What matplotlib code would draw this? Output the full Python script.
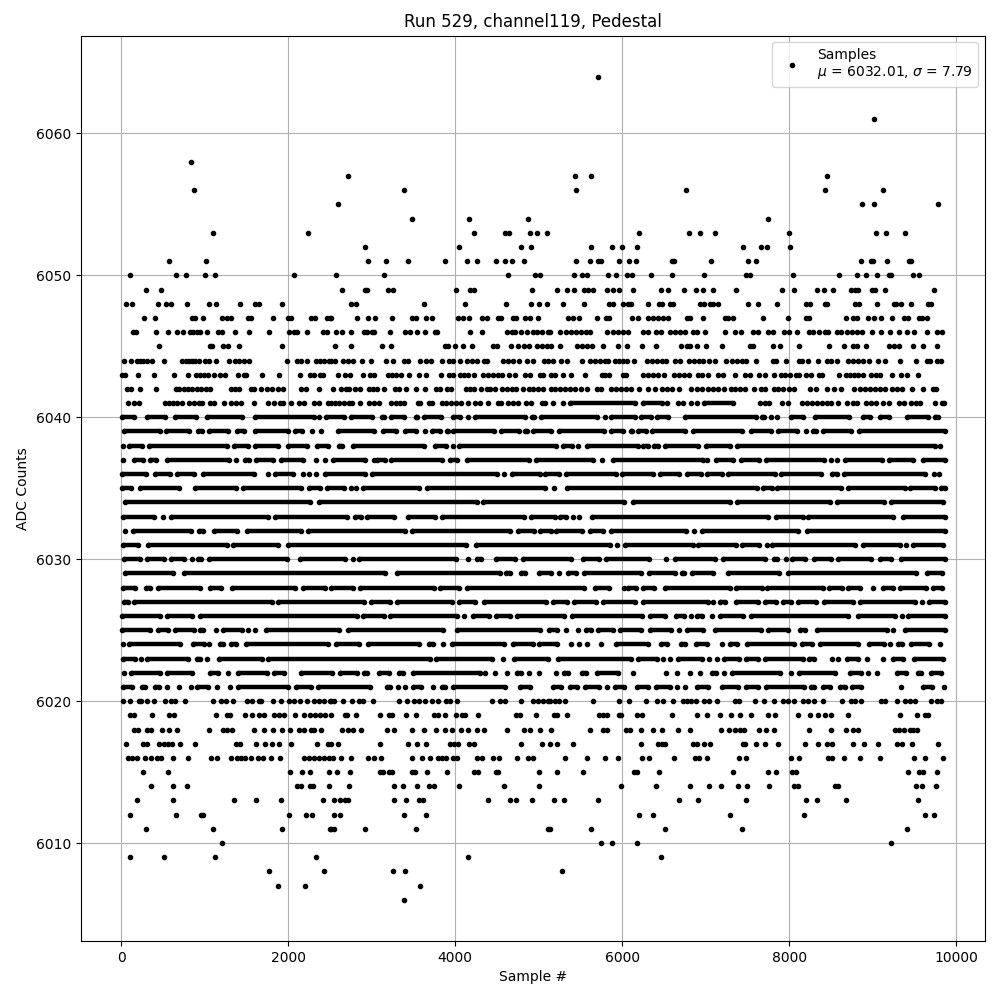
import matplotlib
matplotlib.use("Agg")
import matplotlib.pyplot as plt

# sample numbers, one list per ADC code
# sparse codes: single samples
d6064 = [5712]
d6061 = [9016]
d6058 = [832]
d6057 = [2716, 5436, 5628, 8452]
d6056 = [868, 3388, 5448, 6768, 8428, 9124]
d6055 = [2596, 8872, 9016, 9784]
d6054 = [3484, 4168, 4876, 7748]
d6053 = [1096, 2236, 4228, 4600, 4648, 4900, 4984, 5104, 6204, 6804, 6936, 7116, 7996, 9040, 9160, 9388]
d6052 = [2920, 4048, 4792, 4912, 5628, 5880, 6000, 6180, 7452, 7668, 7740, 8008]
d6051 = [568, 1012, 2956, 3172, 3436, 3880, 4144, 4264, 4492, 4600, 4684, 4828, 5448, 5616, 5712, 5748, 5964,
         6084, 6168, 6600, 6624, 7068, 7512, 7608, 8860, 8980, 9004, 9172, 9436, 9460]
d6050 = [100, 652, 772, 1000, 1120, 2068, 2572, 3148, 4636, 4960, 5020, 5424, 5520, 5580, 5832, 5928, 6060, 6120,
         6348, 6600, 6984, 7488, 7536, 8044, 8596, 8812, 8920, 9052, 9196, 9220, 9484, 9556]
d6049 = [292, 472, 2644, 2920, 2944, 3196, 3256, 4012, 4180, 4228, 4924, 5220, 5340, 5424, 5544, 5592, 5652, 5820,
         5892, 5964, 6132, 6468, 6552, 6744, 6888, 6972, 7092, 7368, 7912, 8056, 8332, 8416, 8524, 8740, 8788, 8824,
         8992, 9028, 9144, 9736]
d6048 = [52, 124, 436, 532, 592, 784, 1048, 1132, 1420, 1600, 1648, 1924, 2752, 2812, 3628, 4120, 4612, 4912, 5008,
         5104, 5292, 5544, 5844, 5892, 6012, 6072, 6108, 6312, 6444, 6480, 6576, 6612, 6936, 6984, 7056, 7092, 7152,
         7512, 7632, 7852, 8200, 8248, 8428, 8452, 8788, 8836, 9052, 9256, 9280, 9340, 9460, 9664, 9700]
d6047 = [268, 400, 844, 880, 976, 1204, 1264, 1312, 1516, 1552, 1816, 1996, 2032, 2272, 2320, 2464, 2500, 2512, 2824,
         2956, 3040, 3244, 3484, 3532, 3652, 3724, 4036, 4096, 4168, 4324, 4384, 4516, 4552, 4696, 4732, 4840, 4900,
         4996, 5352, 5412, 5484, 5700, 5808, 5844, 6120, 6192, 6312, 6372, 6432, 6492, 6552, 6780, 6816, 6972, 7236,
         7272, 7332, 7692, 7984, 8200, 8236, 8680, 8764, 8812, 8944, 9016, 9100, 9232, 9376, 9424, 9556, 9592, 9652]
d6046 = [136, 172, 412, 556, 664, 736, 820, 856, 904, 940, 1024, 1156, 1204, 1360, 1528, 1768, 2008, 2068, 2104, 2224,
         2416, 2464, 2572, 2644, 2752, 2908, 2944, 3004, 3028, 3220, 3400, 3460, 3544, 3640, 3760, 3784, 4180, 4324,
         4624, 4684, 4720, 4792, 4864, 4936, 4984, 5044, 5116, 5132, 5256, 5328, 5388, 5448, 5508, 5568, 5616, 5820,
         5892, 5952, 6012, 6072, 6252, 6312, 6408, 6468, 6576, 6636, 6696, 6756, 6852, 6900, 6996, 7236, 7356, 7428,
         7572, 7632, 7752, 7804, 7936, 7996, 8092, 8236, 8284, 8356, 8428, 8464, 8572, 8620, 8692, 8752, 8812, 8872,
         8992, 9100, 9208, 9316, 9412, 9496, 9652, 9772, 9832]
d6045 = [448, 1060, 1084, 1216, 1276, 1408, 1924, 2560, 2752, 3124, 3232, 3880, 3916, 4000, 4096, 4204, 4456, 4504,
         4672, 4756, 4828, 4888, 4984, 5044, 5104, 5148, 5256, 5460, 5520, 5580, 5640, 5772, 5952, 6060, 6240, 6408,
         6708, 6780, 6816, 6900, 7008, 7200, 7536, 7572, 7804, 7888, 8116, 8476, 8656, 8764, 8812, 8920, 9196, 9256,
         9316, 9484, 9604, 9772]
d6044 = [32, 112, 184, 220, 256, 304, 364, 508, 724, 772, 808, 844, 880, 928, 1000, 1048, 1132, 1288, 1360, 1408, 1468,
         1528, 1984, 2104, 2152, 2224, 2332, 2380, 2428, 2488, 2512, 2560, 2656, 2716, 2776, 2884, 2992, 3172, 3256,
         3384, 3432, 3580, 3652, 3712, 3844, 3928, 3976, 4060, 4144, 4204, 4264, 4348, 4384, 4576, 4636, 4696, 4768,
         4864, 4936, 5068, 5116, 5172, 5268, 5340, 5520, 5616, 5676, 5736, 5796, 5832, 5916, 5964, 6012, 6060, 6140,
         6300, 6360, 6420, 6480, 6528, 6636, 6696, 6804, 6864, 6924, 6972, 7044, 7116, 7248, 7320, 7380, 7440, 7488,
         7608, 7804, 7840, 7960, 8116, 8152, 8224, 8344, 8452, 8500, 8572, 8704, 8764, 8824, 8884, 8956, 9064, 9148,
         9328, 9520, 9652, 9688, 9772, 9820]
d6043 = [4, 44, 196, 388, 628, 796, 892, 940, 988, 1036, 1108, 1180, 1240, 1396, 1468, 1492, 1684, 1888, 2136, 2260,
         2308, 2380, 2416, 2596, 2680, 2740, 2896, 2980, 3028, 3196, 3244, 3292, 3352, 3444, 3568, 3652, 3832, 3928,
         3976, 4060, 4108, 4156, 4228, 4336, 4396, 4456, 4516, 4564, 4648, 4720, 4840, 4900, 5020, 5056, 5148, 5196,
         5292, 5388, 5556, 5760, 5796, 5844, 6012, 6044, 6252, 6312, 6372, 6432, 6504, 6624, 6684, 6744, 6804, 6912,
         6960, 7032, 7152, 7212, 7356, 7476, 7536, 7644, 7716, 7816, 7900, 7948, 8008, 8080, 8116, 8200, 8260, 8356,
         8392, 8596, 8680, 8728, 8776, 8824, 8884, 8980, 9040, 9088, 9232, 9340, 9412, 9544]
d6042 = [64, 112, 220, 412, 652, 688, 748, 796, 844, 904, 952, 1012, 1060, 1312, 1360, 1408, 1552, 1588, 1672, 1744,
         1804, 1876, 1936, 2152, 2212, 2368, 2536, 2632, 2692, 2728, 2800, 2860, 2968, 3016, 3064, 3148, 3280, 3328,
         3412, 3532, 3640, 3772, 3820, 3904, 3952, 4132, 4180, 4228, 4312, 4384, 4420, 4480, 4564, 4624, 4684, 4732,
         4816, 4888, 4936, 4996, 5056, 5148, 5196, 5256, 5316, 5376, 5436, 5508, 5580, 5700, 5748, 5868, 5928, 5988,
         6048, 6108, 6204, 6312, 6396, 6480, 6540, 6600, 6684, 6820, 6900, 6960, 7032, 7092, 7152, 7224, 7308, 7356,
         7416, 7476, 7584, 7668, 7716, 7816, 7864, 7924, 7996, 8056, 8248, 8320, 8452, 8536, 8620, 8776, 8848, 8908,
         8968, 9028, 9088, 9148, 9232, 9292, 9352, 9472, 9604, 9724, 9760]
d6041 = [76, 148, 208, 520, 568, 616, 664, 724, 808, 868, 928, 968, 1060, 1108, 1228, 1312, 1372, 1432, 1588, 1756,
         1828, 1900, 1936, 2032, 2128, 2188, 2308, 2368, 2476, 2512, 2560, 2608, 2668, 2728, 2764, 2860, 2968, 3028,
         3088, 3232, 3292, 3340, 3388, 3556, 3580, 3688, 3724, 3844, 3892, 3952, 4012, 4072, 4156, 4240, 4300, 4396,
         4516, 4552, 4636, 4696, 4756, 4852, 4912, 5044, 5080, 5172, 5292, 6540, 6672, 6732, 6828, 6900, 7656, 7716,
         7764, 7912, 7984, 8152, 8212, 8272, 8332, 8392, 8452, 8500, 8584, 8692, 8764, 8812, 8920, 8980, 9040, 9124,
         9196, 9316, 9376, 9460, 9520, 9568, 9748, 9832, 9856]
d6020 = [16, 108, 208, 232, 304, 388, 520, 592, 640, 760, 1096, 1192, 1252, 1336, 1504, 1564, 1648, 1672, 1816, 1912,
         2008, 2068, 2140, 2224, 2308, 2368, 2428, 2500, 2512, 2548, 2656, 2764, 2848, 2896, 3016, 3328, 3424, 3508,
         3568, 3640, 3724, 3796, 3892, 3940, 4024, 4444, 4540, 4600, 4792, 4936, 4996, 5056, 5116, 5132, 5196, 5244,
         5316, 5652, 5964, 6084, 6288, 6420, 6492, 6612, 6732, 6780, 6828, 6888, 6984, 7044, 7140, 7356, 7404, 7596,
         7704, 7816, 7924, 7984, 8056, 8164, 8224, 8296, 8404, 8632, 8740, 8788, 8860, 9100, 9148, 9292, 9388, 9448,
         9508, 9700, 9772, 9820]
d6019 = [108, 148, 368, 568, 628, 1132, 1264, 1300, 1480, 1564, 1648, 1708, 1828, 1888, 1948, 2080, 2188, 2260, 2320,
         2380, 2440, 2512, 2680, 2704, 2812, 3100, 3208, 3244, 3412, 3532, 3748, 3796, 3880, 4012, 4084, 4120, 4276,
         4732, 4780, 4972, 5184, 5220, 5340, 5724, 5772, 5820, 5964, 5988, 6180, 6240, 6600, 6900, 7012, 7176, 7308,
         7416, 7548, 7752, 7828, 8104, 8248, 8344, 8428, 8500, 8704, 9328, 9532, 9628, 9664]
d6018 = [148, 196, 304, 352, 484, 568, 664, 1048, 1216, 1264, 1324, 1588, 1708, 1820, 1924, 2020, 2128, 2188, 2272,
         2308, 2392, 2644, 2716, 2776, 2872, 3184, 3268, 3484, 3628, 3772, 3880, 3964, 4072, 4156, 4264, 4348, 4624,
         4828, 4900, 5020, 5148, 5616, 5772, 5820, 6048, 6096, 6228, 6372, 6480, 6672, 6816, 7188, 7284, 7356, 7416,
         7464, 7644, 7728, 7816, 8236, 8500, 8680, 8764, 8824, 9268, 9316, 9376, 9448, 9484, 9532]
d6017 = [52, 256, 304, 448, 508, 556, 604, 700, 880, 1372, 1420, 1612, 1720, 1804, 1888, 2032, 2344, 2476, 2512, 2596,
         3100, 3436, 3544, 3652, 3940, 3988, 4036, 4168, 4228, 4792, 5044, 5136, 5220, 5412, 6228, 6432, 6480, 6516,
         6852, 6900, 6984, 7056, 7452, 7476, 7608, 7716, 7864, 8188, 8344, 8452, 8512, 8764, 8896, 9064, 9292, 9352,
         9472, 9784]
d6016 = [76, 124, 184, 280, 352, 424, 468, 616, 796, 1072, 1144, 1312, 1384, 1432, 1480, 1552, 1636, 1696, 1792, 1900,
         2188, 2248, 2308, 2368, 2428, 2488, 2536, 2632, 2752, 2956, 3028, 3112, 3484, 3604, 3700, 3796, 3844, 3892,
         3976, 4024, 4264, 4324, 4456, 4528, 4744, 4876, 4936, 5316, 5580, 5796, 5952, 6240, 6324, 6624, 6876, 6924,
         7020, 7404, 7488, 8020, 8116, 8464, 8512, 8656, 8848, 9088, 9496, 9628, 9844]
d6015 = [256, 556, 2020, 2164, 2260, 2488, 2584, 2740, 3100, 3136, 3208, 3244, 3484, 3520, 3664, 3904, 4228, 4276,
         4492, 4516, 5008, 5220, 5532, 6144, 6180, 6444, 7332, 7752, 7840, 8032, 8080, 9424, 9556, 9604, 9772]
d6014 = [352, 616, 784, 2104, 2152, 2260, 2296, 2488, 2728, 3268, 3376, 3544, 3688, 3748, 4048, 4588, 5000, 5988, 6408,
         6816, 7044, 7188, 7392, 7500, 7764, 8056, 8104, 8548, 8584, 9520, 9592, 9760]
d6013 = [184, 616, 1348, 1612, 1912, 2416, 2548, 2620, 2680, 2716, 3268, 3412, 3568, 3616, 4396, 4660, 4732, 4924, 5184,
         5304, 5712, 6684, 6912, 7488, 8200, 8332, 8680, 9544]
d6012 = [100, 652, 952, 976, 2008, 2212, 2284, 2548, 2620, 3388, 3652, 6204, 6372, 7296, 8176, 9628, 9736]
d6011 = [292, 1096, 1924, 2500, 2512, 2548, 2920, 3532, 5116, 5132, 5628, 6516, 7440, 9412]
d6010 = [1204, 5748, 5880, 6180, 9220]
d6009 = [100, 508, 1120, 2332, 4156, 6468]
d6008 = [1768, 2428, 3256, 3400, 5280]
d6007 = [1876, 2200, 3580]
d6006 = [3388]

# dense codes: the dots overlap into bars, so (first, last) sample of each bar, or one sample
r6041 = [(5376, 6156), (6252, 6472), (6984, 7332)]
r6040 = [(8, 152), (308, 520), (644, 888), (1028, 1448), (1596, 2312), 2368, (2456, 2668), (2748, 3000), (3116, 3140),
         (3224, 3380), (3524, 3540), (3628, 3832), (3976, 4060), 4148, (4236, 4840), (4924, 4940), (5028, 5696), 5788,
         (5868, 6152), (6228, 6344), (6412, 6552), (6748, 7604), (7680, 7704), 7785, 7852, (8020, 8172), (8308, 8712),
         (8888, 8964), (9088, 9192), (9408, 9664), (9748, 9784)]
r6039 = [(36, 460), (528, 808), (916, 968), (1048, 1280), (1384, 1472), (1596, 2000), (2076, 2168), 2286, 2388,
         (2596, 3020), (3136, 3288), (3396, 3528), 3640, (3716, 3812), (3904, 3912), (3976, 4460), (4544, 4768),
         (4836, 4860), (4936, 5152), (5248, 5776), (5860, 6012), (6100, 6112), (6192, 6284), (6360, 6756), (6852, 7432),
         (7540, 7784), (7872, 8096), 8200, (8288, 8316), (8408, 8744), (8840, 9872)]
r6038 = [20, (88, 248), (328, 1260), (1344, 1520), (1596, 1880), (1996, 2228), (2344, 2480), (2608, 2648), (2776, 3628),
         (3756, 3888), 3970, (4044, 5204), (5288, 5404), 5476, (5580, 6184), (6252, 6304), (6380, 6424), (6508, 6912),
         (7000, 7296), (7372, 9744), 9812]
r6037 = [16, (156, 260), (344, 412), (544, 1288), 1368, (1476, 1528), (1616, 1820), (1916, 2180), 2332, 2444,
         (2536, 2920), 3020, (3056, 3152), (3228, 3840), (3936, 4020), (4144, 4880), (4968, 5644), 5760, (5892, 6972),
         7018, (7128, 7324), (7428, 7636), (7728, 8416), 8500, 8572, (8672, 9112), (9200, 9484), (9600, 9864)]
r6036 = [(8, 292), (404, 580), (668, 868), (976, 1588), 1758, (1844, 2060), 2180, 2248, 2328, (2436, 2920), (2996, 4500),
         4588, (4684, 5012), (5080, 5244), (5328, 5924), (5992, 6364), (6456, 6684), (6780, 6944), (7020, 7192),
         (7272, 7832), (7908, 8376), (8508, 8572), (8660, 9632), 9732, 9800]
r6035 = [(8, 112), (216, 688), (876, 1372), (1456, 2152), (2248, 2380), (2464, 2668), 2756, 2816, (2896, 3568),
         (3656, 5072), 5180, (5340, 7616), (7688, 7792), (7860, 8624), (8700, 9384), (9448, 9744), (9820, 9864)]
r6034 = [(48, 2260), (2368, 4260), (4336, 6024), (6128, 7296), (7380, 8484), (8568, 9132), (9220, 9844)]
r6033 = [(16, 392), 498, (596, 1752), (1840, 2700), (2796, 2868), (2944, 3268), (3436, 3760), (3844, 4820),
         (4904, 5192), (5260, 5324), 5406, 5488, (5640, 7752), (7848, 8164), (8232, 9244), (9360, 9864)]
r6032 = [40, (144, 832), (928, 980), (1104, 1380), (1508, 2152), (2236, 3392), (3476, 4660), (4756, 4940), (5020, 5144),
         (5212, 5524), (5608, 5764), (5860, 6764), 6860, (6960, 8112), (8220, 9872)]
r6031 = [(16, 192), (316, 1260), (1336, 1872), (1996, 4128), (4248, 5856), 5940, (6028, 6844), (6912, 7364),
         (7440, 7644), 7730, (7800, 8792), (8880, 9324), 9400, (9480, 9844)]
r6030 = [(28, 220), (308, 512), (596, 752), 848, (920, 952), (1048, 1980), (2136, 2680), 2770, (2848, 4012), 4148,
         (4264, 4312), (4484, 4720), (4816, 5384), (5528, 5724), (5808, 6316), 6520, (6632, 7116), (7212, 7712),
         (7820, 7856), 7962, (8040, 8192), (8300, 8504), (8580, 8984), (9088, 9224), (9340, 9864)]
r6029 = [(44, 612), (744, 3160), (3296, 4540), (4608, 4660), (4784, 4832), (5000, 5152), 5244, (5352, 5444),
         (5548, 6224), (6320, 6632), (6712, 6744), (6832, 7084), (7272, 7884), (7992, 9516), (9652, 9832)]
r6028 = [(16, 168), (296, 340), (436, 940), (1064, 1192), (1328, 2080), (2176, 2440), (2516, 2772), (2856, 3740),
         (3816, 4048), (4144, 5544), (5668, 5844), 6020, (6072, 6164), (6252, 6384), (6508, 7292), (7368, 7672),
         (7740, 8404), (8480, 8632), (8700, 8844), 9000, (9120, 9244), (9328, 9644), (9720, 9832)]
r6027 = [(36, 80), (156, 1800), (1876, 2900), (2988, 3220), (3296, 3960), (4044, 4232), (4344, 5084), (5168, 5344),
         (5428, 5684), (5772, 6152), (6252, 7024), 7084, (7172, 7232), (7368, 7624), (7712, 7844), (7928, 8024),
         (8112, 8324), (8412, 8764), (8848, 9512), 9590, (9672, 9864)]
r6026 = [(4, 460), (548, 840), (944, 2820), (2896, 3140), (3216, 4020), 4100, (4208, 4400), (4484, 4660), (4744, 5304),
         (5400, 6232), (6332, 6516), (6640, 6744), 6830, (6892, 6952), 7080, (7172, 7452), (7540, 8704), (8820, 9272),
         9350, (9420, 9872)]
r6025 = [(4, 340), (436, 552), (636, 872), (944, 980), 1134, (1216, 1440), 1515, 1596, (1728, 2608), (2716, 3848),
         (4016, 5020), (5128, 5216), 5332, 5472, (5568, 5624), (5712, 5884), (5972, 6224), (6332, 6584), 6680,
         (6780, 6964), (7112, 7664), (7752, 7992), (8128, 8196), (8328, 9176), 9242, (9388, 9864)]
r6024 = [20, (96, 700), (856, 988), 1044, (1184, 1220), (1316, 1372), (1496, 2480), (2568, 2848), (2956, 3560),
         (3684, 3728), 3856, (3964, 4580), (4696, 4928), (5000, 5224), 5392, 5484, 5584, 5740, (5928, 6304),
         (6460, 6532), (6708, 6752), (6880, 7012), 7200, (7292, 7372), (7492, 8064), (8160, 8272), (8372, 8824),
         (8960, 9132), 9212, (9300, 9352), (9460, 9672), 9812]
r6023 = [(16, 168), 232, (304, 800), (900, 940), 1024, (1168, 1680), (1756, 3700), (3768, 4440), 4568, (4704, 5112),
         (5232, 6104), (6192, 6412), 6492, 6572, (6672, 6956), 7034, 7140, (7220, 7404), (7488, 7624), (7712, 8164),
         (8240, 8304), 8510, 8590, (8688, 8824), 8928, 9124, (9248, 9364), (9492, 9844)]
r6022 = [36, (116, 460), (544, 848), (1056, 1160), 1278, (1396, 1740), (1828, 1948), (2156, 2528), (2624, 2820),
         (2904, 2940), (3084, 3200), (3324, 3368), (3496, 4300), 4358, 4472, 4618, (4744, 4788), 4888, 5000, 5208,
         (5300, 5356), (5520, 5564), (5700, 5944), 6128, 6528, 6662, 6818, 6938, (7080, 7124), 7222, (7312, 7896), 8020,
         (8120, 8544), (8728, 8856), 8940, 9056, (9288, 9396), (9540, 9584), (9700, 9824)]
r6021 = [(16, 128), (248, 280), (396, 448), 544, 688, 828, (904, 1032), 1146, 1298, (1396, 2000), (2088, 2268),
         (2356, 2980), (3176, 3220), 3314, 3396, (3488, 3592), 3734, (3836, 3872), (3968, 4600), (4776, 4900),
         (5172, 5272), (5380, 5456), (5552, 5716), 5812, (5912, 6024), (6180, 6312), (6400, 6572), 6654, 6748,
         (6900, 7024), (7200, 7384), (7480, 7632), (7728, 8184), (8260, 8304), (8400, 8484), (8608, 8664), (8752, 8864),
         9336, (9600, 9716), 9850]

dot_levels = [6064, 6061, 6058, 6057, 6056, 6055, 6054, 6053, 6052, 6051, 6050, 6049, 6048, 6047, 6046, 6045, 6044,
              6043, 6042, 6041, 6020, 6019, 6018, 6017, 6016, 6015, 6014, 6013, 6012, 6011, 6010, 6009, 6008, 6007, 6006]
run_levels = list(range(6021, 6042))

legend_text = "Samples\n$\\mu$ = 6032.01, $\\sigma$ = 7.79"

xs, ys = [], []
seg_y, seg_start, seg_end = [], [], []

for lev in dot_levels:
    for s in globals()[f"d{lev}"]:
        xs.append(s)
        ys.append(lev)

for lev in run_levels:
    for item in globals()[f"r{lev}"]:
        if isinstance(item, tuple):
            xs += list(item)
            ys += [lev, lev]
            seg_y.append(lev)
            seg_start.append(item[0])
            seg_end.append(item[1])
        else:
            xs.append(item)
            ys.append(lev)

fig, ax = plt.subplots(figsize=(10, 10))
fig.subplots_adjust(left=0.081, right=0.985, top=0.9645, bottom=0.059)
ax.hlines(seg_y, seg_start, seg_end, colors="black", linewidth=3.2, zorder=2)
ax.plot(xs, ys, "k.", label=legend_text, zorder=2)
ax.set_xlim(-485, 10347)
ax.set_ylim(6003.1, 6066.9)
ax.set_title("Run 529, channel119, Pedestal")
ax.set_xlabel("Sample #")
ax.set_ylabel("ADC Counts")
ax.grid(True)
ax.legend(loc="upper right")
fig.savefig("out.png", dpi=100)
